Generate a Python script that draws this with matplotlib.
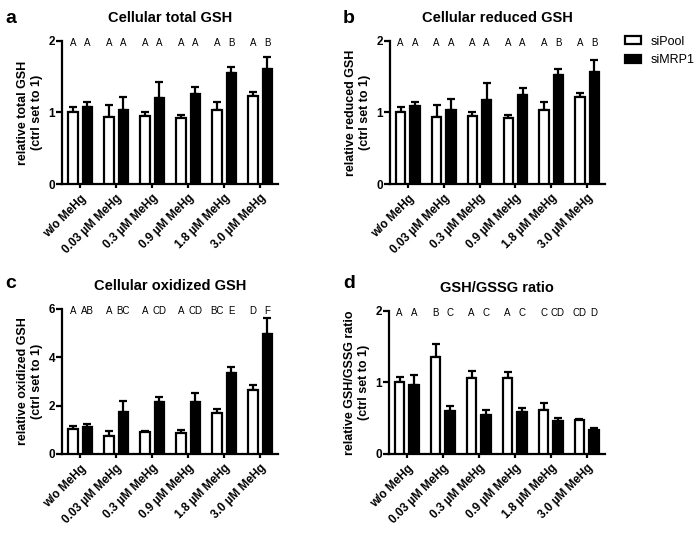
import numpy as np
import matplotlib
matplotlib.use('Agg')
import matplotlib.pyplot as plt

plt.rcParams['font.family'] = ['Liberation Sans', 'DejaVu Sans']

categories = ['w/o MeHg', '0.03 µM MeHg', '0.3 µM MeHg', '0.9 µM MeHg', '1.8 µM MeHg', '3.0 µM MeHg']

# a - total GSH (mean, top of error bar)
total_pool = [1.00, 0.93, 0.95, 0.92, 1.04, 1.23]
total_pool_err = [1.07, 1.11, 1.01, 0.97, 1.15, 1.29]
total_mrp = [1.08, 1.04, 1.20, 1.26, 1.55, 1.61]
total_mrp_err = [1.14, 1.21, 1.42, 1.35, 1.63, 1.78]
total_letters = [('A', 'A'), ('A', 'A'), ('A', 'A'), ('A', 'A'), ('A', 'B'), ('A', 'B')]

# b - reduced GSH
red_pool = [1.00, 0.93, 0.95, 0.92, 1.03, 1.21]
red_pool_err = [1.07, 1.11, 1.01, 0.97, 1.14, 1.27]
red_mrp = [1.09, 1.03, 1.18, 1.24, 1.52, 1.57]
red_mrp_err = [1.14, 1.19, 1.41, 1.34, 1.61, 1.74]
red_letters = [('A', 'A'), ('A', 'A'), ('A', 'A'), ('A', 'A'), ('A', 'B'), ('A', 'B')]

# c - oxidized GSH
ox_pool = [1.02, 0.73, 0.91, 0.88, 1.71, 2.63]
ox_pool_err = [1.16, 0.97, 0.94, 1.00, 1.87, 2.86]
ox_mrp = [1.13, 1.75, 2.15, 2.15, 3.36, 4.97]
ox_mrp_err = [1.23, 2.19, 2.37, 2.53, 3.60, 5.62]
ox_letters = [('A', 'AB'), ('A', 'BC'), ('A', 'CD'), ('A', 'CD'), ('BC', 'E'), ('D', 'F')]

# d - GSH/GSSG ratio
ratio_pool = [1.00, 1.35, 1.06, 1.06, 0.62, 0.47]
ratio_pool_err = [1.08, 1.54, 1.16, 1.15, 0.72, 0.49]
ratio_mrp = [0.97, 0.60, 0.55, 0.59, 0.46, 0.33]
ratio_mrp_err = [1.10, 0.67, 0.62, 0.65, 0.51, 0.37]
ratio_letters = [('A', 'A'), ('B', 'C'), ('A', 'C'), ('A', 'C'), ('C', 'CD'), ('CD', 'D')]


def panel(ax, pool, pool_err, mrp, mrp_err, letters, ymax, yticks, title, ylabel):
    x = np.arange(len(categories))
    off = 0.2
    w = 0.26
    pool = np.array(pool)
    mrp = np.array(mrp)
    b1 = ax.bar(x - off, pool, w, color='white', edgecolor='black', linewidth=1.6, label='siPool', zorder=3)
    b2 = ax.bar(x + off, mrp, w, color='black', edgecolor='black', linewidth=1.6, label='siMRP1', zorder=3)
    # only upper error bars
    ax.errorbar(x - off, pool, yerr=[np.zeros(len(pool)), np.array(pool_err) - pool],
                fmt='none', ecolor='black', elinewidth=1.6, capsize=3, capthick=1.6, zorder=2)
    ax.errorbar(x + off, mrp, yerr=[np.zeros(len(mrp)), np.array(mrp_err) - mrp],
                fmt='none', ecolor='black', elinewidth=1.6, capsize=3, capthick=1.6, zorder=2)
    for i, (l1, l2) in enumerate(letters):
        ax.text(i - off, ymax * 0.985, l1, ha='center', va='center', fontsize=7)
        ax.text(i + off, ymax * 0.985, l2, ha='center', va='center', fontsize=7)

    ax.set_xlim(-0.5, 5.5)
    ax.set_ylim(0, ymax)
    ax.set_yticks(yticks)
    ax.set_xticks(x)
    ax.set_xticklabels(categories, rotation=45, ha='right', rotation_mode='anchor',
                       fontsize=8.5, fontweight='bold')
    for lab in ax.get_yticklabels():
        lab.set_fontweight('bold')
        lab.set_fontsize(8.5)
    ax.spines['top'].set_visible(False)
    ax.spines['right'].set_visible(False)
    ax.spines['left'].set_linewidth(1.6)
    ax.spines['bottom'].set_linewidth(1.6)
    ax.tick_params(axis='y', length=4, width=1.6, pad=1)
    ax.tick_params(axis='x', length=3, width=1.6, pad=3)
    ax.set_title(title, fontsize=10.5, fontweight='bold', pad=14)
    ax.set_ylabel(ylabel, fontsize=9, fontweight='bold', labelpad=4)
    return b1, b2


fig = plt.figure(figsize=(6.97, 5.46), dpi=100)

ax_a = fig.add_axes([0.089, 0.663, 0.310, 0.262])
ax_b = fig.add_axes([0.5595, 0.663, 0.3085, 0.262])
ax_c = fig.add_axes([0.089, 0.1685, 0.310, 0.2656])
ax_d = fig.add_axes([0.558, 0.1685, 0.3095, 0.2620])

h1, h2 = panel(ax_a, total_pool, total_pool_err, total_mrp, total_mrp_err, total_letters,
               2, [0, 1, 2], 'Cellular total GSH', 'relative total GSH\n(ctrl set to 1)')
panel(ax_b, red_pool, red_pool_err, red_mrp, red_mrp_err, red_letters,
      2, [0, 1, 2], 'Cellular reduced GSH', 'relative reduced GSH\n(ctrl set to 1)')
panel(ax_c, ox_pool, ox_pool_err, ox_mrp, ox_mrp_err, ox_letters,
      6, [0, 2, 4, 6], 'Cellular oxidized GSH', 'relative oxidized GSH\n(ctrl set to 1)')
panel(ax_d, ratio_pool, ratio_pool_err, ratio_mrp, ratio_mrp_err, ratio_letters,
      2, [0, 1, 2], 'GSH/GSSG ratio', 'relative GSH/GSSG ratio\n(ctrl set to 1)')

# panel letters
fig.text(0.008, 0.982, 'a', fontsize=14, fontweight='bold', va='top')
fig.text(0.492, 0.982, 'b', fontsize=14, fontweight='bold', va='top')
fig.text(0.008, 0.497, 'c', fontsize=14, fontweight='bold', va='top')
fig.text(0.492, 0.497, 'd', fontsize=14, fontweight='bold', va='top')

fig.legend([h1, h2], ['siPool', 'siMRP1'], loc='upper left', bbox_to_anchor=(0.88, 0.955),
           frameon=False, fontsize=9, handlelength=1.3, handleheight=0.6,
           handletextpad=0.8, labelspacing=0.5)

fig.savefig('out.png', dpi=100)
